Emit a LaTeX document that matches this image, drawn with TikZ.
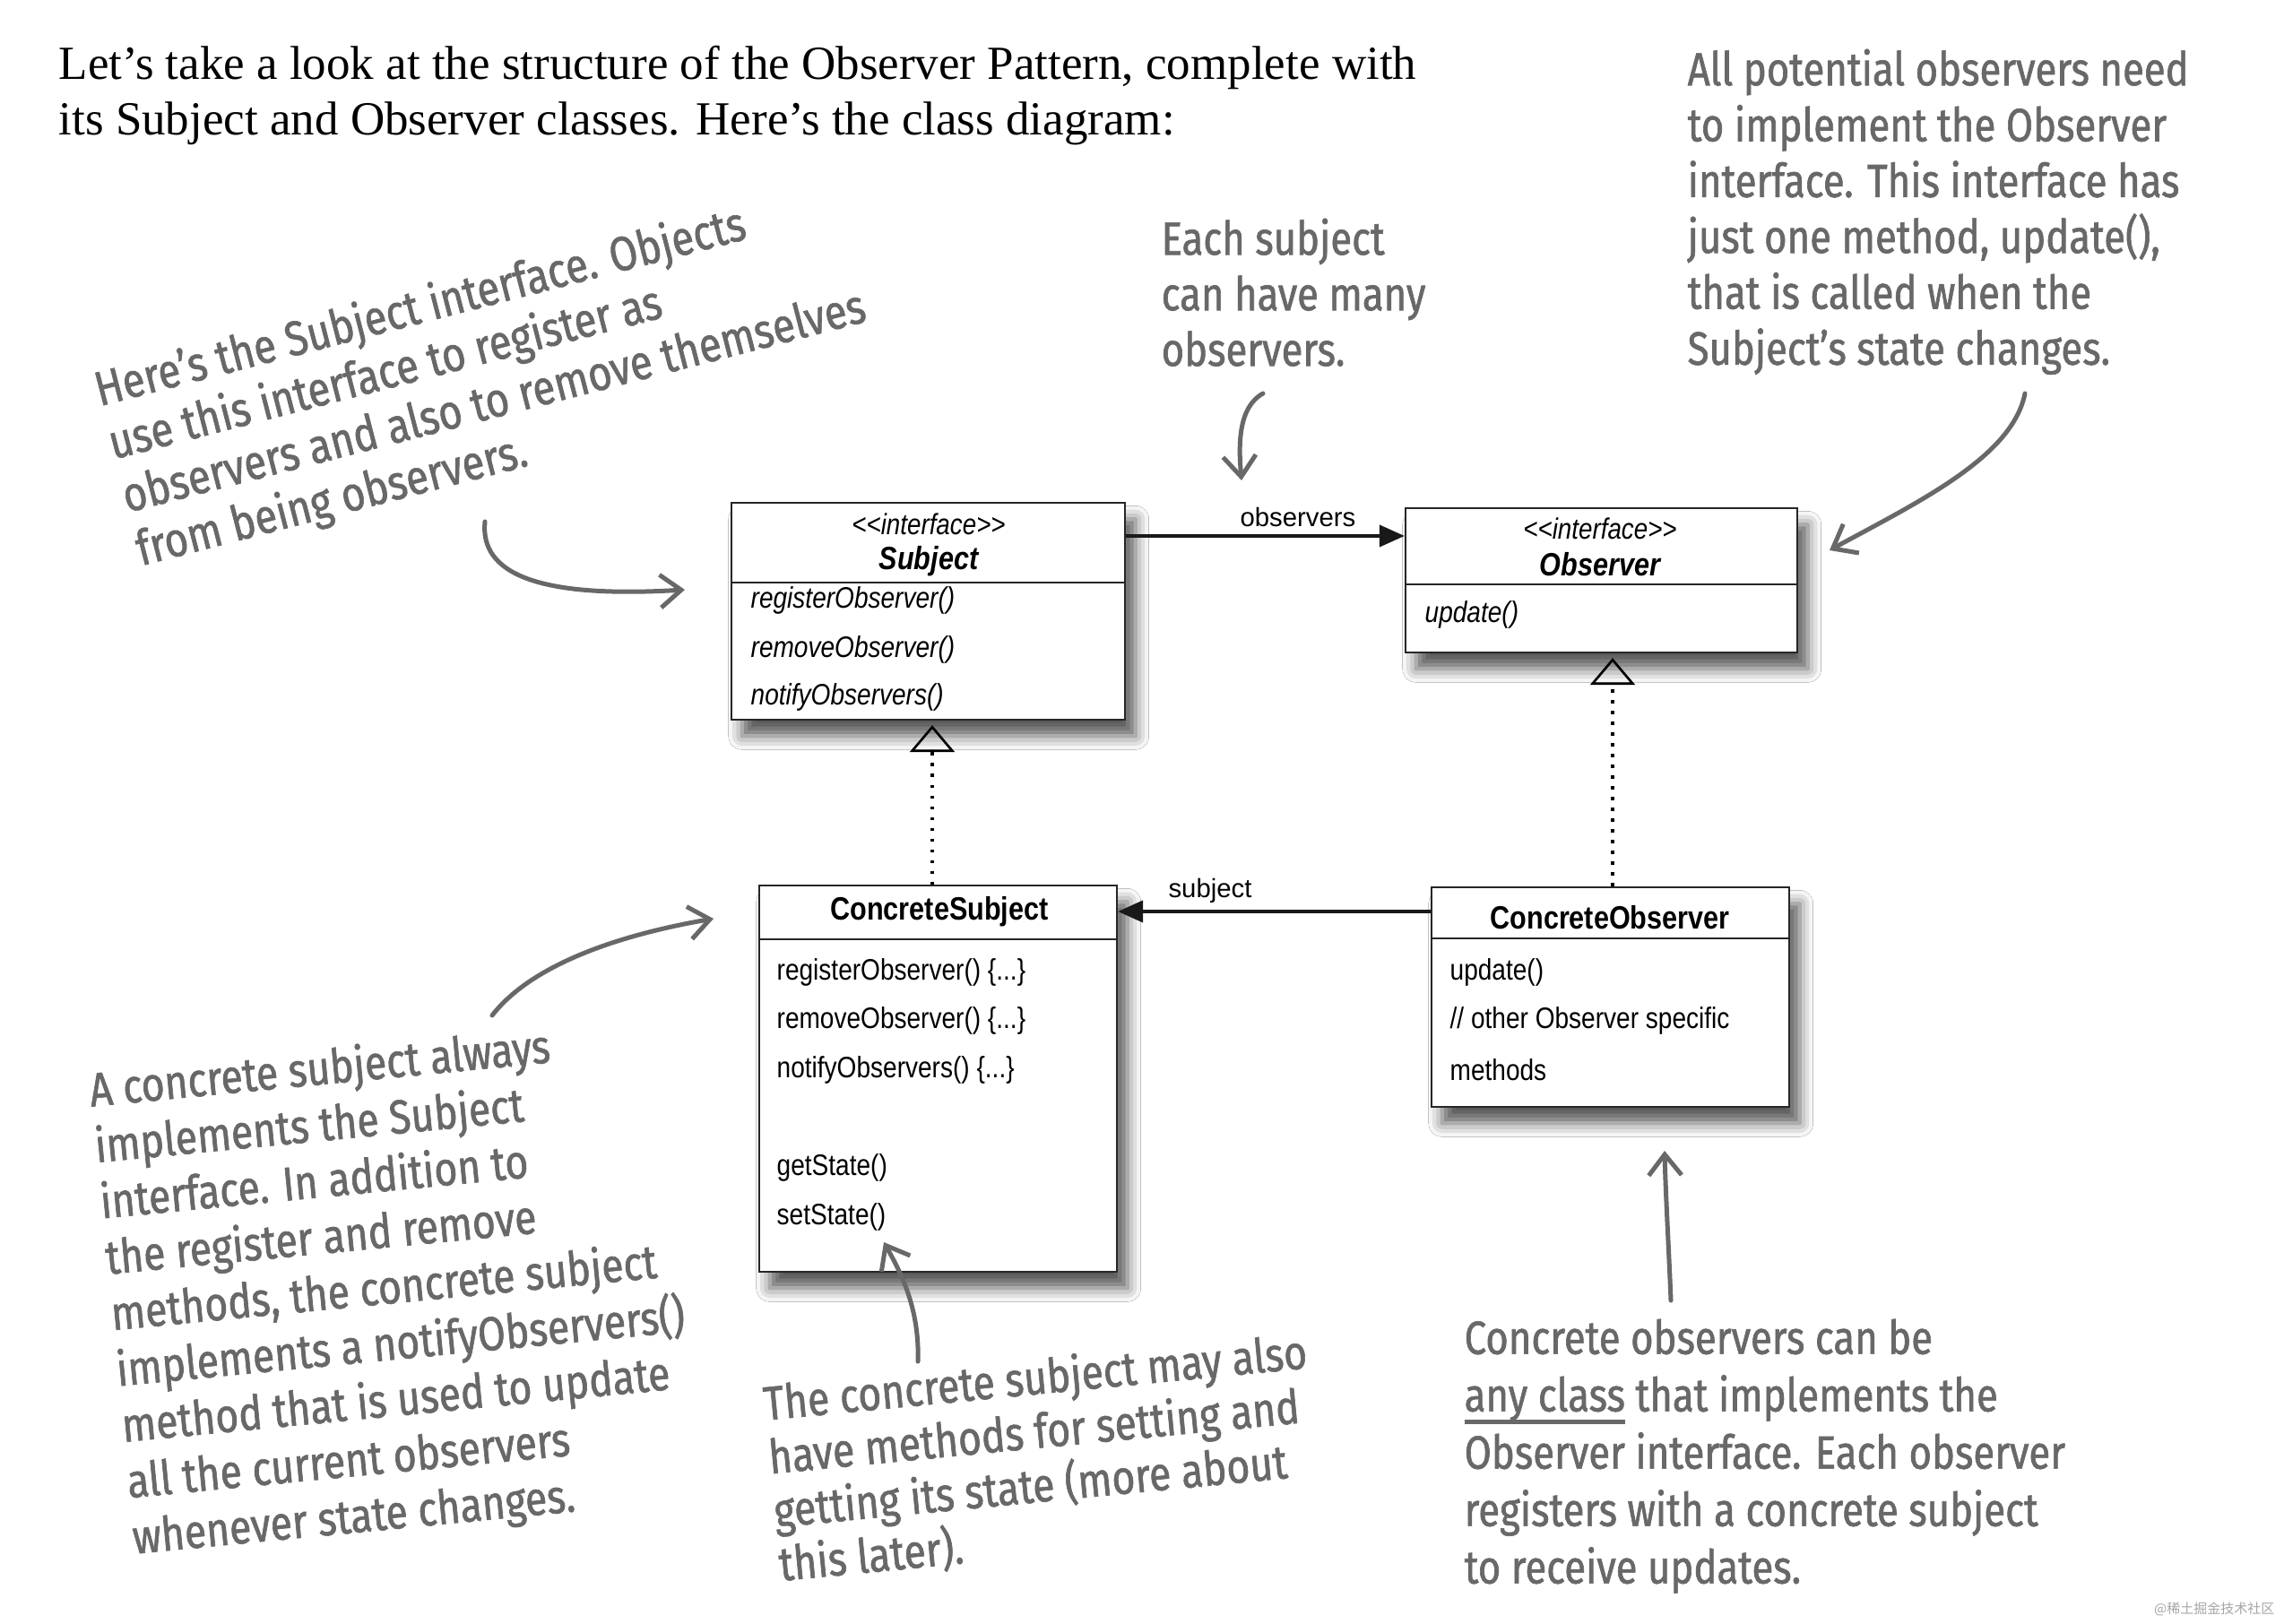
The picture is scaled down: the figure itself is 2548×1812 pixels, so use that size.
\documentclass[tikz,border=0pt]{standalone}
\usepackage{fontspec}
\setmainfont{Liberation Serif}
\newfontfamily\umlfont[FakeStretch=0.85]{Liberation Sans}
\newfontfamily\lblfont{Liberation Sans}
\newfontfamily\handfont[FakeStretch=0.84,FakeBold=1.2]{Fira Sans}
\newfontfamily\cjkfont{Noto Sans CJK SC}
\usetikzlibrary{arrows.meta,shadows.blur}
\definecolor{hgray}{RGB}{104,104,104}
\newcommand\handul[1]{\setbox0\hbox{#1}\rlap{\rule[-4.2pt]{\wd0}{1.3pt}}\box0\relax}
\tikzset{
  umlbox/.style={draw=black!85, line width=0.7pt, fill=white, inner sep=0pt,
    blur shadow={shadow xshift=3.5pt, shadow yshift=-5.5pt, shadow blur radius=4.5pt, shadow opacity=65}},
  divider/.style={draw=black!85, line width=0.7pt},
  umltext/.style={inner sep=0pt, font=\umlfont\fontsize{9.9}{11}\selectfont},
  umlitalic/.style={umltext, anchor=west, font=\umlfont\itshape\fontsize{9.9}{11}\selectfont},
  umlmeth/.style={umltext, anchor=west},
  stereo/.style={inner sep=0pt, font=\umlfont\itshape\fontsize{9.8}{11}\selectfont},
  ifname/.style={inner sep=0pt, font=\umlfont\bfseries\itshape\fontsize{10.8}{12}\selectfont},
  clname/.style={inner sep=0pt, font=\umlfont\bfseries\fontsize{10.8}{12}\selectfont},
  assoclbl/.style={inner sep=0pt, font=\lblfont\fontsize{8.8}{10}\selectfont},
  assoc/.style={line width=1.2pt, draw=black!90, -{Triangle[length=8.4pt,width=7.2pt]}},
  realize/.style={line width=1pt, dash pattern=on 1pt off 2.6pt, shorten >=1.5pt,
    -{Triangle[open,length=9pt,width=15pt,line width=0.8pt]}},
  hand/.style={inner sep=0pt, anchor=north west, align=left, text=hgray,
    font=\handfont\fontsize{15.6}{18.7}\selectfont},
  harrow/.style={draw=hgray, line width=1.5pt, line cap=round,
    -{Straight Barb[length=7pt,width=11pt,line width=1.5pt]}},
  intro/.style={inner sep=0pt, anchor=base west, font=\fontsize{15.9}{18}\selectfont}
}
\begin{document}
\begin{tikzpicture}[x=0.3pt,y=-0.3pt]
\useasboundingbox[fill=white] (0,0) rectangle (2548,1812);

% intro text
\node[intro] (intro1) at (65,89) {Let’s take a look at the structure of the Observer Pattern, complete with};
\node[intro] (intro2) at (65,151) {its Subject and Observer classes. Here’s the class diagram:};

% helper coordinates
\coordinate (sdiv) at (0,650);
\coordinate (odiv) at (0,652);
\coordinate (csdiv) at (0,1048);
\coordinate (codiv) at (0,1047);
\coordinate (obsy) at (0,598);
\coordinate (suby) at (0,1017);
\coordinate (rx1) at (1040,0);
\coordinate (rx2) at (1799,0);

% Subject
\node[umlbox, minimum width=131.7pt, minimum height=72.6pt] (subj) at (1035.5,682) {};
\draw[divider] (subj.west |- sdiv) -- (subj.east |- sdiv);
\node[stereo] (subjst) at (1036,585) {<<interface>>};
\node[ifname] (subjnm) at (1036,626) {Subject};
\node[umlitalic] (subjm1) at (837,670) {registerObserver()};
\node[umlitalic] (subjm2) at (837,725) {removeObserver()};
\node[umlitalic] (subjm3) at (837,778) {notifyObservers()};

% Observer
\node[umlbox, minimum width=131.1pt, minimum height=48.3pt] (obs) at (1786.5,647.5) {};
\draw[divider] (obs.west |- odiv) -- (obs.east |- odiv);
\node[stereo] (obsst) at (1785,590) {<<interface>>};
\node[ifname] (obsnm) at (1785,630) {Observer};
\node[umlitalic] (obsm1) at (1589,686) {update()};

% ConcreteSubject
\node[umlbox, minimum width=119.7pt, minimum height=129.3pt] (csub) at (1046.5,1203.5) {};
\draw[divider] (csub.west |- csdiv) -- (csub.east |- csdiv);
\node[clname] (csubnm) at (1048,1017) {ConcreteSubject};
\node[umlmeth] (csm1) at (866,1085) {registerObserver() \{...\}};
\node[umlmeth] (csm2) at (866,1139) {removeObserver() \{...\}};
\node[umlmeth] (csm3) at (866,1194) {notifyObservers() \{...\}};
\node[umlmeth] (csm4) at (866,1303) {getState()};
\node[umlmeth] (csm5) at (866,1358) {setState()};

% ConcreteObserver
\node[umlbox, minimum width=119.7pt, minimum height=73.5pt] (cobs) at (1796.5,1112.5) {};
\draw[divider] (cobs.west |- codiv) -- (cobs.east |- codiv);
\node[clname] (cobsnm) at (1796,1024) {ConcreteObserver};
\node[umlmeth] (com1) at (1617,1085) {update()};
\node[umlmeth] (com2) at (1617,1139) {// other Observer specific};
\node[umlmeth] (com3) at (1617,1194) {methods};

% connectors
\draw[assoc] (subj.east |- obsy) -- (obs.west |- obsy);
\node[assoclbl] (obslbl) at (1448,577) {observers};
\draw[assoc] (cobs.west |- suby) -- (csub.east |- suby);
\node[assoclbl] (sublbl) at (1350,994) {subject};
\draw[realize] (csub.north -| rx1) -- (subj.south -| rx1);
\draw[realize] (cobs.north -| rx2) -- (obs.south -| rx2);

% handwritten annotations
\node[hand, rotate=14.5, font=\handfont\fontsize{16.2}{18.4}\selectfont] (note1) at (100,412)
  {Here’s the Subject interface. Objects\\use this interface to register as\\observers and also to remove themselves\\from being observers.};
\node[hand, font=\handfont\fontsize{15.6}{18.6}\selectfont] (note2) at (1295,243)
  {Each subject\\can have many\\observers.};
\node[hand] (note3) at (1882,54)
  {All potential observers need\\to implement the Observer\\interface. This interface has\\just one method, update(),\\that is called when the\\Subject’s state changes.};
\node[hand, rotate=5.5, font=\handfont\fontsize{15.9}{18.8}\selectfont] (note4) at (97,1193)
  {A concrete subject always\\implements the Subject\\interface. In addition to\\the register and remove\\methods, the concrete subject\\implements a notifyObservers()\\method that is used to update\\all the current observers\\whenever state changes.};
\node[hand, rotate=5.5, font=\handfont\fontsize{15.9}{18}\selectfont] (note5) at (849,1543)
  {The concrete subject may also\\have methods for setting and\\getting its state (more about\\this later).};
\node[hand, font=\handfont\fontsize{15.6}{19.2}\selectfont] (note6) at (1633,1471)
  {Concrete observers can be\\\handul{any class} that implements the\\Observer interface. Each observer\\registers with a concrete subject\\to receive updates.};

% hand arrows
\coordinate (h1s) at (541,582);  \coordinate (h1e) at (764,658);
\coordinate (h2s) at (1409,439); \coordinate (h2e) at (1385,536);
\coordinate (h3s) at (2259,439); \coordinate (h3e) at (2041,614);
\coordinate (h4s) at (549,1133); \coordinate (h4e) at (796,1025);
\coordinate (h5s) at (1024,1519);\coordinate (h5e) at (986,1386);
\coordinate (h6s) at (1864,1451);\coordinate (h6e) at (1857,1284);
\draw[harrow] (h1s) .. controls (535,640) and (600,668) .. (h1e);
\draw[harrow] (h2s) .. controls (1380,455) and (1382,500) .. (h2e);
\draw[harrow] (h3s) .. controls (2245,510) and (2140,560) .. (h3e);
\draw[harrow] (h4s) .. controls (590,1080) and (680,1045) .. (h4e);
\draw[harrow] (h5s) .. controls (1026,1460) and (1005,1420) .. (h5e);
\draw[harrow] (h6s) .. controls (1862,1400) and (1858,1330) .. (h6e);

% watermark
\node[inner sep=0pt, anchor=east, text=black!35, font=\cjkfont\fontsize{4.5}{5}\selectfont] (wm) at (2538,1795) {@稀土掘金技术社区};
\end{tikzpicture}
\end{document}
